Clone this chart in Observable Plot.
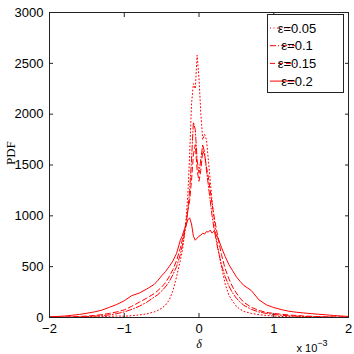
<!DOCTYPE html>
<html>
<head>
<meta charset="utf-8">
<script src="https://cdn.jsdelivr.net/npm/d3@7"></script>
<script src="https://cdn.jsdelivr.net/npm/@observablehq/plot@0.6"></script>
<style>
  html, body { margin: 0; padding: 0; background: white; }
  #chart { width: 354px; height: 354px; }
</style>
</head>
<body>
<div id="chart"></div>
<script>
// δ in units of 1e-3
const delta = [-2.0,-1.9,-1.8,-1.7,-1.6,-1.5,-1.4,-1.3,-1.2,-1.1,-1.0,-0.9,-0.8,-0.7,
  -0.6,-0.55,-0.5,-0.45,-0.4,-0.35,-0.3,
  -0.25,-0.225,-0.2,-0.175,-0.15,-0.125,-0.1,-0.075,-0.05,-0.025,0,0.025,0.05,0.075,0.1,0.125,0.15,0.175,0.2,0.225,0.25,
  0.3,0.35,0.4,0.45,0.5,0.55,0.6,
  0.7,0.8,0.9,1.0,1.1,1.2,1.3,1.4,1.5,1.6,1.7,1.8,1.9,2.0];

const pdfEps005 = [1,1,1,2,3,4,6,8,11,15,12,18,25,35,
  55,70,90,120,170,260,400,
  560,650,780,950,1200,1600,2100,2300,2250,2580,2350,2000,1750,1800,1750,1550,1350,1150,980,830,700,
  500,330,220,160,110,80,60,
  40,28,20,15,10,8,6,5,4,3,2,2,1,1];

const pdfEps01 = [1,2,3,4,6,9,13,18,26,38,55,80,110,150,
  200,225,260,300,350,420,500,
  620,700,800,900,1050,1250,1550,1920,1850,1550,1420,1560,1700,1620,1450,1300,1150,1000,880,780,680,
  520,400,310,240,190,150,120,
  80,55,40,30,22,17,13,10,8,6,5,4,3,2];

const pdfEps015 = [2,3,5,7,10,14,20,28,40,55,75,110,150,190,
  235,265,300,340,400,470,560,
  680,760,830,920,1050,1150,1350,1600,1700,1450,1340,1450,1640,1600,1480,1380,1250,1120,1000,900,800,
  620,480,380,300,240,190,150,
  100,70,50,40,32,25,20,15,12,9,7,5,4,3];

const pdfEps02 = [8,10,14,22,30,42,55,72,100,128,165,215,240,280,
  325,365,410,450,500,555,630,
  760,800,860,900,960,980,920,800,760,780,800,810,830,820,845,840,860,830,850,820,790,
  690,600,520,460,400,355,315,
  265,175,125,98,78,62,52,45,38,32,26,20,15,10];

const seriesLabels = ["ε=0.05", "ε=0.1", "ε=0.15", "ε=0.2"];
const seriesValues = [pdfEps005, pdfEps01, pdfEps015, pdfEps02];
const dashes = ["1,2.5", "6,2,1,2", "5,3", null];

const xTicks = [-2, -1, 0, 1, 2];
const xTickLabels = ["−2", "−1", "0", "1", "2"];
const yTicks = [0, 500, 1000, 1500, 2000, 2500, 3000];
const yTickLabels = ["0", "500", "1000", "1500", "2000", "2500", "3000"];

const rows = seriesLabels.flatMap((s, i) =>
  delta.map((d, j) => ({series: s, delta: d, pdf: seriesValues[i][j]})));

const chart = Plot.plot({
  width: 354, height: 354,
  marginLeft: 49, marginRight: 6, marginTop: 12, marginBottom: 37,
  style: {fontFamily: "Liberation Sans, Arial, sans-serif", fontSize: "13px", color: "black", background: "white"},
  x: {domain: [-2, 2]},
  y: {domain: [0, 3000]},
  marks: [
    ...seriesLabels.map((s, i) => Plot.line(rows.filter(r => r.series === s), {
      x: "delta", y: "pdf", stroke: "#ff0000", strokeWidth: 1,
      strokeDasharray: dashes[i] ?? undefined
    })),
    Plot.frame({stroke: "#222"}),
    Plot.axisX(xTicks, {anchor: "bottom", tickSize: -4, tickPadding: 10, stroke: "#222",
      tickFormat: d => xTickLabels[xTicks.indexOf(d)], fontSize: 13, label: null}),
    Plot.axisX(xTicks, {anchor: "top", tickSize: -4, stroke: "#222", tickFormat: () => "", label: null}),
    Plot.axisY(yTicks, {anchor: "left", tickSize: -4, tickPadding: 10, stroke: "#222",
      tickFormat: d => yTickLabels[yTicks.indexOf(d)], fontSize: 13, label: null}),
    Plot.axisY(yTicks, {anchor: "right", tickSize: -4, stroke: "#222", tickFormat: () => "", label: null}),
    Plot.text(["PDF"], {frameAnchor: "left", rotate: -90, dx: -39, fontFamily: "Liberation Serif, Times New Roman, serif", fontSize: 13, fill: "black"}),
    Plot.text(["δ"], {frameAnchor: "bottom", dy: 30, fontFamily: "Liberation Serif, Times New Roman, serif", fontStyle: "italic", fontSize: 12, fill: "black"})
  ]
});

document.getElementById("chart").appendChild(chart);

const svg = d3.select(chart);
// exponent label
const ex = svg.append("text")
  .attr("x", 312).attr("y", 352)
  .attr("font-family", "Liberation Sans, Arial, sans-serif")
  .attr("font-size", 11).attr("fill", "black");
ex.append("tspan").text("x 10");
ex.append("tspan").attr("dy", -6).attr("font-size", 9).text("−3");

// legend
const lg = svg.append("g");
lg.append("rect").attr("x", 267.5).attr("y", 14.5).attr("width", 76).attr("height", 78)
  .attr("fill", "white").attr("stroke", "#222").attr("stroke-width", 1);
seriesLabels.forEach((s, i) => {
  const y = 28 + i * 17.7;
  lg.append("line").attr("x1", 270).attr("x2", 295).attr("y1", y).attr("y2", y)
    .attr("stroke", "#ff0000").attr("stroke-width", 1)
    .attr("stroke-dasharray", dashes[i]);
  lg.append("text").attr("x", 297).attr("y", y).attr("dy", "0.35em")
    .attr("font-family", "Liberation Sans, Arial, sans-serif").attr("font-size", 13)
    .attr("fill", "black").text(s);
});
</script>
</body>
</html>
